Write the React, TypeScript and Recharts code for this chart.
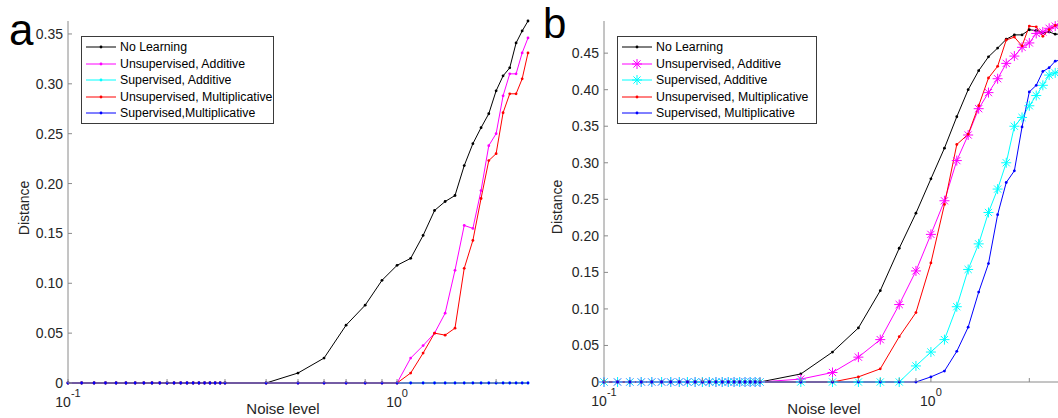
import { LineChart, Line, XAxis, YAxis, Legend } from 'recharts'

const FONT = "'Liberation Sans', Arial, Helvetica, sans-serif"
const FRAME = '#8a8a8a'
const TICK_TEXT = '#262626'

// noise levels (x), same grid for both panels
const noiseLevels = [
  0.1, 0.11, 0.12, 0.13, 0.14, 0.15, 0.16, 0.17, 0.18, 0.19, 0.2, 0.21, 0.22, 0.23, 0.24, 0.25, 0.26,
  0.27, 0.28, 0.29, 0.3, 0.4, 0.5, 0.6, 0.7, 0.8, 0.9, 1.0, 1.1, 1.2, 1.3, 1.4, 1.5, 1.6, 1.7, 1.8,
  1.9, 2.0, 2.1, 2.2, 2.3, 2.4, 2.5,
]

const xTicks = [0.1, 0.2, 0.3, 0.4, 0.5, 0.6, 0.7, 0.8, 0.9, 1, 2]
const yTicksA = [0, 0.05, 0.1, 0.15, 0.2, 0.25, 0.3, 0.35]
const yTicksB = [0, 0.05, 0.1, 0.15, 0.2, 0.25, 0.3, 0.35, 0.4, 0.45]

// panel a
const noLearningA = [
  0, 0, 0, 0, 0, 0, 0, 0, 0, 0, 0, 0, 0, 0, 0, 0, 0, 0, 0, 0, 0,
  0, 0.01, 0.025, 0.058, 0.078, 0.103, 0.118,
  0.125, 0.148, 0.173, 0.182, 0.188, 0.218, 0.24, 0.256, 0.27, 0.293, 0.308, 0.316, 0.341, 0.353, 0.363,
]
const unsupAddA = [
  0, 0, 0, 0, 0, 0, 0, 0, 0, 0, 0, 0, 0, 0, 0, 0, 0, 0, 0, 0, 0,
  0, 0, 0, 0, 0, 0, 0,
  0.025, 0.0375, 0.05, 0.07, 0.113, 0.158, 0.155, 0.193, 0.238, 0.25, 0.288, 0.31, 0.31, 0.331, 0.346,
]
const supAddA = [
  0, 0, 0, 0, 0, 0, 0, 0, 0, 0, 0, 0, 0, 0, 0, 0, 0, 0, 0, 0, 0,
  0, 0, 0, 0, 0, 0, 0,
  0, 0, 0, 0, 0, 0, 0, 0, 0, 0, 0, 0, 0, 0, 0,
]
const unsupMultA = [
  0, 0, 0, 0, 0, 0, 0, 0, 0, 0, 0, 0, 0, 0, 0, 0, 0, 0, 0, 0, 0,
  0, 0, 0, 0, 0, 0, 0,
  0.01, 0.03, 0.05, 0.048, 0.055, 0.115, 0.143, 0.185, 0.223, 0.23, 0.271, 0.29, 0.29, 0.305, 0.331,
]
const supMultA = [
  0, 0, 0, 0, 0, 0, 0, 0, 0, 0, 0, 0, 0, 0, 0, 0, 0, 0, 0, 0, 0,
  0, 0, 0, 0, 0, 0, 0,
  0, 0, 0, 0, 0, 0, 0, 0, 0, 0, 0, 0, 0, 0, 0,
]

// panel b
const noLearningB = [
  0, 0, 0, 0, 0, 0, 0, 0, 0, 0, 0, 0, 0, 0, 0, 0, 0, 0, 0, 0, 0,
  0.011, 0.041, 0.074, 0.125, 0.183, 0.231, 0.278,
  0.32, 0.363, 0.4, 0.426, 0.445, 0.457, 0.469, 0.475, 0.475, 0.482, 0.481, 0.478, 0.479, 0.476, 0.476,
]
const unsupAddB = [
  0, 0, 0, 0, 0, 0, 0, 0, 0, 0, 0, 0, 0, 0, 0, 0, 0, 0, 0, 0, 0,
  0.004, 0.013, 0.034, 0.058, 0.106, 0.152, 0.202,
  0.248, 0.303, 0.338, 0.374, 0.396, 0.415, 0.436, 0.446, 0.458, 0.464, 0.477, 0.479, 0.484, 0.487, 0.489,
]
const supAddB = [
  0, 0, 0, 0, 0, 0, 0, 0, 0, 0, 0, 0, 0, 0, 0, 0, 0, 0, 0, 0, 0,
  0, 0, 0, 0, 0, 0.022, 0.041,
  0.058, 0.103, 0.154, 0.189, 0.232, 0.264, 0.3, 0.35, 0.362, 0.378, 0.392, 0.406, 0.42, 0.423, 0.424,
]
const unsupMultB = [
  0, 0, 0, 0, 0, 0, 0, 0, 0, 0, 0, 0, 0, 0, 0, 0, 0, 0, 0, 0, 0,
  0, 0, 0.007, 0.018, 0.062, 0.095, 0.163,
  0.243, 0.325, 0.339, 0.378, 0.416, 0.432, 0.468, 0.472, 0.46, 0.487, 0.486, 0.473, 0.482, 0.488, 0.49,
]
const supMultB = [
  0, 0, 0, 0, 0, 0, 0, 0, 0, 0, 0, 0, 0, 0, 0, 0, 0, 0, 0, 0, 0,
  0, 0, 0, 0, 0, 0, 0.007,
  0.015, 0.042, 0.075, 0.123, 0.162, 0.229, 0.273, 0.289, 0.349, 0.397, 0.406, 0.425, 0.43, 0.439, 0.441,
]

type Marker = 'dot' | 'star'
interface Series {
  key: string
  name: string
  color: string
  marker: Marker
  values: number[]
}

const seriesA: Series[] = [
  { key: 'nl', name: 'No Learning', color: '#000000', marker: 'dot', values: noLearningA },
  { key: 'ua', name: 'Unsupervised, Additive', color: '#ff00ff', marker: 'dot', values: unsupAddA },
  { key: 'sa', name: 'Supervised, Additive', color: '#00ffff', marker: 'dot', values: supAddA },
  { key: 'um', name: 'Unsupervised, Multiplicative', color: '#ff0000', marker: 'dot', values: unsupMultA },
  { key: 'sm', name: 'Supervised,Multiplicative', color: '#0000ff', marker: 'dot', values: supMultA },
]

const seriesB: Series[] = [
  { key: 'nl', name: 'No Learning', color: '#000000', marker: 'dot', values: noLearningB },
  { key: 'ua', name: 'Unsupervised, Additive', color: '#ff00ff', marker: 'star', values: unsupAddB },
  { key: 'sa', name: 'Supervised, Additive', color: '#00ffff', marker: 'star', values: supAddB },
  { key: 'um', name: 'Unsupervised, Multiplicative', color: '#ff0000', marker: 'dot', values: unsupMultB },
  { key: 'sm', name: 'Supervised, Multiplicative', color: '#0000ff', marker: 'dot', values: supMultB },
]

const buildRows = (series: Series[]) =>
  noiseLevels.map((x, i) => {
    const row: Record<string, number> = { x }
    series.forEach((s) => {
      row[s.key] = s.values[i]
    })
    return row
  })

function Asterisk({ cx, cy, color }: { cx: number; cy: number; color: string }) {
  const r = 5
  const d = r * 0.72
  return (
    <g stroke={color} strokeWidth={1} fill="none">
      <line x1={cx - r} y1={cy} x2={cx + r} y2={cy} />
      <line x1={cx} y1={cy - r} x2={cx} y2={cy + r} />
      <line x1={cx - d} y1={cy - d} x2={cx + d} y2={cy + d} />
      <line x1={cx - d} y1={cy + d} x2={cx + d} y2={cy - d} />
    </g>
  )
}

const makeDot = (color: string, marker: Marker) => (props: any) => {
  const { cx, cy, index } = props
  if (cx == null || cy == null) return <g key={index} />
  if (marker === 'star') {
    return (
      <g key={index}>
        <Asterisk cx={cx} cy={cy} color={color} />
      </g>
    )
  }
  return <circle key={index} cx={cx} cy={cy} r={1.4} fill={color} stroke="none" />
}

function BottomTick(props: any) {
  const { x, y, payload } = props
  const lg = Math.log10(payload.value)
  const exp = Math.round(lg)
  const major = Math.abs(lg - exp) < 1e-9
  return (
    <g>
      <line x1={x} x2={x} y1={y} y2={y - 4} stroke={FRAME} />
      {major && (
        <text x={x} y={y + 24} textAnchor="middle" fontSize={14} fill={TICK_TEXT} fontFamily={FONT}>
          10
          <tspan dy={-10} fontSize={11}>
            {exp}
          </tspan>
        </text>
      )}
    </g>
  )
}

function TopTick(props: any) {
  const { x, y } = props
  return <line x1={x} x2={x} y1={y} y2={y + 4} stroke={FRAME} />
}

function LeftTick(props: any) {
  const { x, y, payload } = props
  const v = payload.value as number
  return (
    <g>
      <line x1={x} x2={x + 4} y1={y} y2={y} stroke={FRAME} />
      <text x={x - 5} y={y + 5} textAnchor="end" fontSize={14} fill={TICK_TEXT} fontFamily={FONT}>
        {v === 0 ? '0' : v.toFixed(2)}
      </text>
    </g>
  )
}

function RightTick(props: any) {
  const { x, y } = props
  return <line x1={x} x2={x - 4} y1={y} y2={y} stroke={FRAME} />
}

function LegendBox({ series, width }: { series: Series[]; width: number }) {
  return (
    <div
      style={{
        width,
        boxSizing: 'border-box',
        border: '1px solid #3a3a3a',
        background: '#fff',
        padding: '2px 0 1px 4px',
        fontFamily: FONT,
        fontSize: 12.3,
        color: '#000',
      }}
    >
      {series.map((s) => (
        <div key={s.key} style={{ display: 'flex', alignItems: 'center', height: 16.5 }}>
          <svg width={30} height={12} style={{ flex: 'none' }}>
            <line x1={0} y1={6} x2={30} y2={6} stroke={s.color} strokeWidth={1} />
            {s.marker === 'star' ? (
              <Asterisk cx={15} cy={6} color={s.color} />
            ) : (
              <circle cx={15} cy={6} r={1.4} fill={s.color} />
            )}
          </svg>
          <span style={{ marginLeft: 4, whiteSpace: 'nowrap' }}>{s.name}</span>
        </div>
      ))}
    </div>
  )
}

interface PanelProps {
  series: Series[]
  yMax: number
  yTicks: number[]
  margin: { top: number; right: number; bottom: number; left: number }
  legendLeft: number
  legendWidth: number
}

function Panel({ series, yMax, yTicks, margin, legendLeft, legendWidth }: PanelProps) {
  const data = buildRows(series)
  return (
    <LineChart width={540} height={418} data={data} margin={margin}>
      <XAxis
        xAxisId="b"
        dataKey="x"
        type="number"
        scale="log"
        domain={[0.1, 2.5]}
        ticks={xTicks}
        interval={0}
        height={30}
        tickSize={0}
        tickMargin={0}
        tickLine={false}
        axisLine={{ stroke: FRAME }}
        tick={<BottomTick />}
      />
      <XAxis
        xAxisId="t"
        orientation="top"
        dataKey="x"
        type="number"
        scale="log"
        domain={[0.1, 2.5]}
        ticks={xTicks}
        interval={0}
        height={0}
        tickSize={0}
        tickMargin={0}
        tickLine={false}
        axisLine={{ stroke: FRAME }}
        tick={<TopTick />}
      />
      <YAxis
        yAxisId="l"
        type="number"
        domain={[0, yMax]}
        ticks={yTicks}
        interval={0}
        width={50}
        tickSize={0}
        tickMargin={0}
        tickLine={false}
        axisLine={{ stroke: FRAME }}
        tick={<LeftTick />}
      />
      <YAxis
        yAxisId="r"
        orientation="right"
        type="number"
        domain={[0, yMax]}
        ticks={yTicks}
        interval={0}
        width={0}
        tickSize={0}
        tickMargin={0}
        tickLine={false}
        axisLine={{ stroke: FRAME }}
        tick={<RightTick />}
      />
      <Legend
        layout="vertical"
        align="center"
        verticalAlign="middle"
        wrapperStyle={{ left: legendLeft, top: 36, width: 'auto', height: 'auto' }}
        content={() => <LegendBox series={series} width={legendWidth} />}
      />
      {series.map((s) => (
        <Line
          key={s.key}
          xAxisId="b"
          yAxisId="l"
          type="linear"
          dataKey={s.key}
          name={s.name}
          stroke={s.color}
          strokeWidth={1}
          dot={makeDot(s.color, s.marker)}
          activeDot={false}
          isAnimationActive={false}
        />
      ))}
    </LineChart>
  )
}

export default function App() {
  return (
    <div
      style={{
        position: 'absolute',
        left: 0,
        top: 0,
        width: 1058,
        height: 418,
        overflow: 'hidden',
        background: '#fff',
        fontFamily: FONT,
      }}
    >
      <div style={{ position: 'absolute', left: 0, top: 0 }}>
        <Panel
          series={seriesA}
          yMax={0.363}
          yTicks={yTicksA}
          margin={{ top: 21, right: 12, bottom: 5, left: 18 }}
          legendLeft={81}
          legendWidth={193}
        />
      </div>
      <div style={{ position: 'absolute', left: 530, top: 0 }}>
        <Panel
          series={seriesB}
          yMax={0.494}
          yTicks={yTicksB}
          margin={{ top: 21, right: 9, bottom: 6, left: 24 }}
          legendLeft={87}
          legendWidth={200}
        />
      </div>
      <svg
        width={1058}
        height={418}
        style={{ position: 'absolute', left: 0, top: 0, pointerEvents: 'none' }}
        fontFamily={FONT}
      >
        <text x={9} y={45} fontSize={44} fill="#000">
          a
        </text>
        <text x={543} y={38} fontSize={42} fill="#000">
          b
        </text>
        <text
          transform="translate(29,208) rotate(-90)"
          textAnchor="middle"
          fontSize={14}
          fill={TICK_TEXT}
        >
          Distance
        </text>
        <text
          transform="translate(562,207) rotate(-90)"
          textAnchor="middle"
          fontSize={14}
          fill={TICK_TEXT}
        >
          Distance
        </text>
        <text x={283} y={414} textAnchor="middle" fontSize={15} fill={TICK_TEXT}>
          Noise level
        </text>
        <text x={824} y={414} textAnchor="middle" fontSize={15} fill={TICK_TEXT}>
          Noise level
        </text>
      </svg>
    </div>
  )
}
